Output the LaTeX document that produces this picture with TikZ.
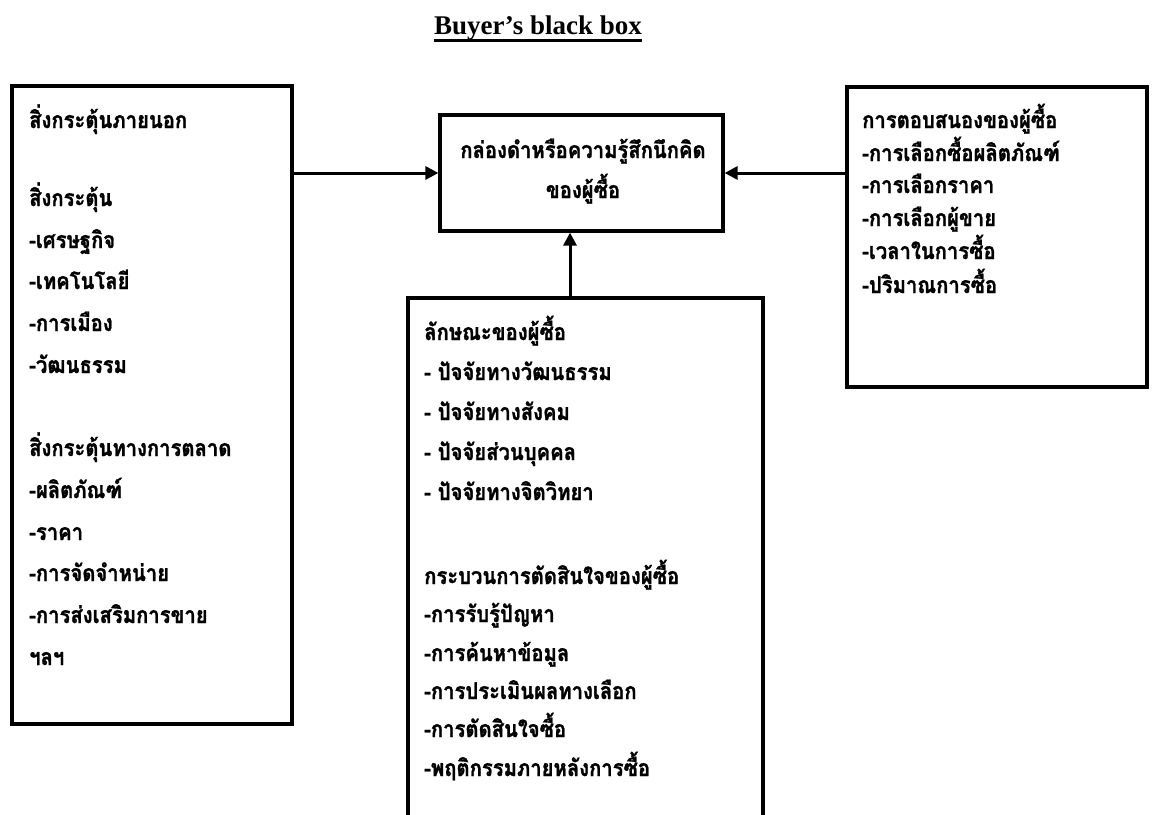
\documentclass[tikz,border=0pt]{standalone}
\usepackage{fontspec}
\setmainfont{Liberation Serif}
\newfontfamily\thai[Script=Thai, FakeStretch=0.88, FakeBold=1.2]{Loma}
\usetikzlibrary{arrows.meta}
\tikzset{
  box/.style={draw, line width=3.2pt, rectangle, inner sep=0pt},
  arr/.style={line width=3pt, -{Triangle[length=13pt,width=13pt]}},
  tx/.style={anchor=base west, inner sep=0pt, font=\thai\bfseries\fontsize{23}{26}\selectfont},
  txc/.style={anchor=base, inner sep=0pt, font=\thai\bfseries\fontsize{23}{26}\selectfont},
  ttl/.style={anchor=base, inner sep=0pt, font=\bfseries\fontsize{27}{30}\selectfont},
}
\begin{document}
\begin{tikzpicture}[x=1pt,y=-1pt]
\clip (0,0) rectangle (1155,814);
\fill[white] (0,0) rectangle (1155,814);
% title
\node[ttl] (title) at (538,34) {Buyer’s black box};
\draw[line width=2.4pt] ([yshift=-6.5pt]title.base west) -- ([yshift=-6.5pt]title.base east);
% boxes
\node[box, minimum width=280pt, minimum height=638pt] (L) at (152,405) {};
\node[box, minimum width=283pt, minimum height=116pt] (C) at (581.5,173) {};
\node[box, minimum width=300pt, minimum height=300pt] (R) at (997,237) {};
\node[box, minimum width=355pt, minimum height=542pt] (B) at (585.5,569) {};
% connectors
\draw[arr] (L.north east |- C.west) -- (C.west);
\draw[arr] (R.north west |- C.east) -- (C.east);
\coordinate (bt) at (570,298);
\draw[arr] (bt) -- (bt |- C.south);
% left text
\foreach \y/\t [count=\i] in {128/สิ่งกระตุ้นภายนอก, 206/สิ่งกระตุ้น, 248/-เศรษฐกิจ, 289/-เทคโนโลยี, 331/-การเมือง, 373/-วัฒนธรรม, 456/สิ่งกระตุ้นทางการตลาด, 498/-ผลิตภัณฑ์, 540/-ราคา, 581/-การจัดจำหน่าย, 623/-การส่งเสริมการขาย, 665/ฯลฯ}
  \node[tx] (lt\i) at (29,\y) {\t};
% center text
\node[txc] (ct1) at (583,158) {กล่องดำหรือความรู้สึกนึกคิด};
\node[txc] (ct2) at (583,198) {ของผู้ซื้อ};
% bottom text
\foreach \y/\t [count=\i] in {340/ลักษณะของผู้ซื้อ, 380/- ปัจจัยทางวัฒนธรรม, 420/- ปัจจัยทางสังคม, 460/- ปัจจัยส่วนบุคคล, 500/- ปัจจัยทางจิตวิทยา, 584/กระบวนการตัดสินใจของผู้ซื้อ, 622/-การรับรู้ปัญหา, 661/-การค้นหาข้อมูล, 699/-การประเมินผลทางเลือก, 737/-การตัดสินใจซื้อ, 776/-พฤติกรรมภายหลังการซื้อ}
  \node[tx] (bt\i) at (424,\y) {\t};
% right text
\foreach \y/\t [count=\i] in {128/การตอบสนองของผู้ซื้อ, 161/-การเลือกซื้อผลิตภัณฑ์, 193/-การเลือกราคา, 226/-การเลือกผู้ขาย, 259/-เวลาในการซื้อ, 293/-ปริมาณการซื้อ}
  \node[tx] (rt\i) at (862,\y) {\t};
\end{tikzpicture}
\end{document}
